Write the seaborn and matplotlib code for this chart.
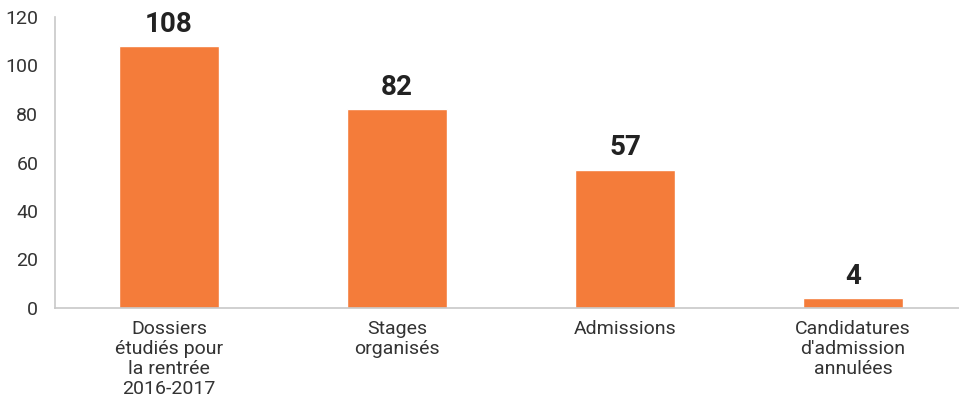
import matplotlib
matplotlib.use("Agg")
import matplotlib.pyplot as plt
import seaborn as sns
import pandas as pd

categories = ["Dossiers\nétudiés pour\nla rentrée\n2016-2017", "Stages\norganisés", "Admissions",
              "Candidatures\nd'admission\nannulées"]
values = [108, 82, 57, 4]
yticks = [0, 20, 40, 60, 80, 100, 120]

sns.set_theme(style="white")
plt.rcParams['font.family'] = ['Liberation Sans Narrow', 'Roboto', 'DejaVu Sans']

df = pd.DataFrame({"cat": categories, "val": values})
fig = plt.figure(figsize=(9.59, 4.04), dpi=100)
ax = fig.add_axes([55/959, 1 - 308/404, 912/959, (308-17)/404])
sns.barplot(data=df, x="cat", y="val", color="#F47C3A", width=0.44, saturation=1, ax=ax)

ax.set_xlim(-0.5, 3.5)
ax.set_ylim(0, 120)
ax.set_yticks(yticks)
ax.set_xlabel("")
ax.set_ylabel("")
for s in ["top", "right"]:
    ax.spines[s].set_visible(False)
for s in ["left", "bottom"]:
    ax.spines[s].set_color("#c8c8c8")
    ax.spines[s].set_linewidth(1.2)

ax.tick_params(axis="y", direction="in", length=23, width=1, color="#c8c8c8",
               labelsize=14, labelcolor="#333333", pad=12)
ax.tick_params(axis="x", which="major", length=0, labelsize=14, labelcolor="#333333", pad=9)
for lab in ax.get_xticklabels():
    lab.set_linespacing(1.12)
ax.set_xticks([0.5, 1.5, 2.5], minor=True)
ax.tick_params(axis="x", which="minor", direction="in", length=7, width=1, color="#c8c8c8")

for i, v in enumerate(values):
    ax.annotate(str(v), (i, v), xytext=(0, 6), textcoords="offset points",
                ha="center", va="bottom", fontsize=20, fontweight="bold", color="#222222")

fig.savefig("out.png", dpi=100)
